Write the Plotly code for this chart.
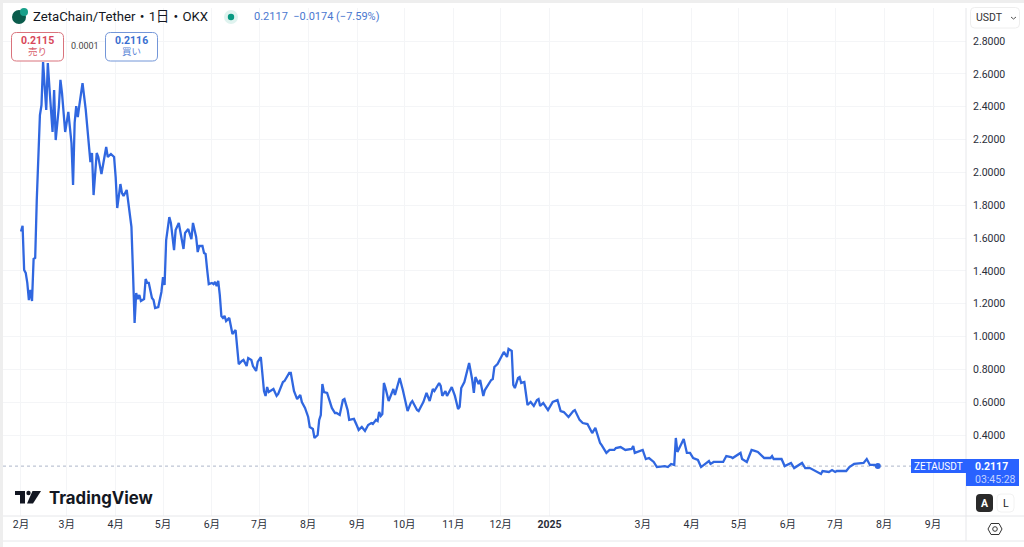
import pandas as pd
import plotly.graph_objects as go

# daily close, days counted from 2024-02-01
start_day = pd.Timestamp("2024-02-01")
days = [0, 1, 2, 3, 4, 5, 6, 7, 8, 9, 10, 12, 13, 14, 16, 17, 18, 20, 21, 22, 24, 25, 26, 28, 30, 32, 33, 34, 35, 36, 37, 39,
        41, 42, 44, 45, 46, 48, 49, 51, 54, 55, 57, 59, 60, 61, 63, 64, 65, 67, 69, 70, 71, 72, 73, 74, 75, 76, 78, 79, 80, 81,
        83, 84, 85, 87, 89, 90, 91, 92, 94, 95, 97, 98, 100, 102, 103, 104, 106, 108, 109, 111, 112, 113, 115, 116, 117, 118, 119, 121, 122, 123,
        124, 125, 126, 127, 128, 129, 130, 132, 134, 136, 138, 140, 141, 143, 144, 146, 147, 149, 150, 152, 153, 154, 155, 156, 157, 160,
        162, 163, 166, 167, 170, 171, 173, 175, 177, 178, 180, 182, 183, 185, 186, 188, 189, 190, 191, 192, 194, 197, 199, 200, 202, 204,
        205, 207, 208, 211, 213, 214, 216, 218, 220, 222, 223, 225, 226, 227, 228, 229, 230, 231, 233, 236, 237, 239, 240, 242, 245, 247,
        248, 251, 252, 254, 255, 257, 259, 261, 262, 265, 266, 267, 269, 270, 273, 275, 277, 278, 279, 281, 284, 286, 287, 288, 290, 291,
        293, 294, 298, 299, 300, 302, 305, 306, 308, 309, 311, 312, 313, 315, 316, 317, 319, 321, 323, 325, 327, 328, 329, 331, 334, 337,
        340, 342, 344, 347, 350, 351, 354, 356, 359, 362, 364, 367, 368, 371, 373, 376, 377, 380, 383, 387, 388, 389, 394, 396, 398, 401,
        403, 406, 408, 410, 412, 414, 415, 416, 420, 422, 424, 426, 429, 431, 436, 437, 439, 445, 447, 450, 451, 456, 457, 460, 463, 465,
        467, 471, 475, 476, 477, 482, 484, 488, 490, 495, 497, 500, 507, 508, 512, 514, 516, 517, 523, 525, 528, 534, 536, 538, 541, 543]
prices = [1.64, 1.675, 1.406, 1.388, 1.327, 1.223, 1.284, 1.217, 1.473, 1.479, 1.832, 2.349, 2.41, 2.672, 2.38, 2.666, 2.52, 2.246, 2.502, 2.197, 2.398, 2.563, 2.483, 2.246, 2.368, 2.179, 1.923, 2.301, 2.404, 2.337, 2.41, 2.544,
          2.385, 2.258, 2.063, 2.118, 1.862, 2.118, 2.094, 1.99, 2.155, 2.094, 2.112, 2.094, 1.972, 1.783, 1.929, 1.874, 1.856, 1.893, 1.741, 1.668, 1.388, 1.083, 1.266, 1.229, 1.254, 1.217, 1.229, 1.351, 1.327, 1.327,
          1.235, 1.223, 1.174, 1.18, 1.272, 1.363, 1.314, 1.588, 1.728, 1.692, 1.527, 1.649, 1.692, 1.57, 1.534, 1.631, 1.655, 1.594, 1.692, 1.607, 1.515, 1.552, 1.552, 1.509, 1.503, 1.406, 1.32, 1.327, 1.32, 1.333,
          1.308, 1.339, 1.253, 1.126, 1.114, 1.126, 1.095, 1.114, 1.016, 1.04, 0.833, 0.852, 0.858, 0.821, 0.87, 0.858, 0.821, 0.791, 0.846, 0.876, 0.754, 0.669, 0.639, 0.693, 0.663, 0.681,
          0.639, 0.651, 0.724, 0.73, 0.779, 0.779, 0.669, 0.62, 0.645, 0.602, 0.566, 0.511, 0.45, 0.438, 0.383, 0.401, 0.493, 0.523, 0.712, 0.663, 0.657, 0.566, 0.535, 0.535, 0.523, 0.614,
          0.62, 0.553, 0.493, 0.499, 0.456, 0.432, 0.45, 0.426, 0.462, 0.474, 0.468, 0.493, 0.486, 0.541, 0.517, 0.529, 0.718, 0.687, 0.608, 0.681, 0.645, 0.724, 0.748, 0.675, 0.547, 0.596,
          0.608, 0.553, 0.547, 0.584, 0.602, 0.657, 0.608, 0.681, 0.669, 0.718, 0.7, 0.639, 0.669, 0.639, 0.693, 0.639, 0.559, 0.572, 0.687, 0.724, 0.84, 0.736, 0.657, 0.754, 0.712, 0.736,
          0.639, 0.675, 0.736, 0.742, 0.815, 0.833, 0.888, 0.907, 0.876, 0.925, 0.913, 0.706, 0.687, 0.748, 0.754, 0.718, 0.724, 0.584, 0.602, 0.578, 0.614, 0.62, 0.578, 0.596, 0.553, 0.602,
          0.614, 0.547, 0.541, 0.511, 0.547, 0.553, 0.493, 0.474, 0.468, 0.413, 0.444, 0.352, 0.34, 0.292, 0.31, 0.31, 0.322, 0.328, 0.31, 0.316, 0.334, 0.292, 0.31, 0.255, 0.261, 0.237,
          0.206, 0.212, 0.212, 0.206, 0.225, 0.219, 0.383, 0.298, 0.377, 0.292, 0.292, 0.261, 0.249, 0.206, 0.243, 0.225, 0.237, 0.237, 0.273, 0.267, 0.261, 0.292, 0.255, 0.237, 0.31, 0.304,
          0.298, 0.261, 0.261, 0.273, 0.255, 0.255, 0.212, 0.231, 0.2, 0.231, 0.2, 0.2, 0.164, 0.182, 0.176, 0.188, 0.176, 0.182, 0.182, 0.206, 0.225, 0.231, 0.255, 0.219, 0.219, 0.2117]

month_ticks = ["2024-02-01", "2024-03-01", "2024-04-01", "2024-05-01", "2024-06-01", "2024-07-01", "2024-08-01", "2024-09-01",
               "2024-10-01", "2024-11-01", "2024-12-01", "2025-01-01", "2025-03-01", "2025-04-01", "2025-05-01", "2025-06-01",
               "2025-07-01", "2025-08-01", "2025-09-01"]
month_labels = ["2月", "3月", "4月", "5月", "6月", "7月", "8月", "9月", "10月", "11月", "12月", "<b>2025</b>",
                "3月", "4月", "5月", "6月", "7月", "8月", "9月"]
price_ticks = [0.4, 0.6, 0.8, 1.0, 1.2, 1.4, 1.6, 1.8, 2.0, 2.2, 2.4, 2.6, 2.8]

LINE = "#3067e0"
GRID = "#f4f5f7"
BORDER = "#e6e7ea"
TEXT = "#2a2e39"
FONT = "Roboto, 'Noto Sans CJK JP', sans-serif"

dates = [start_day + pd.Timedelta(days=d) for d in days]

# plot area in window pixels: x 3..966, y 8..516
def px(x):
    return (x - 3) / 963

def py(y):
    return (516 - y) / 508

def round_box(x0, y0, x1, y1, r):
    a, b, c, d = px(x0), py(y0), px(x1), py(y1)
    rx, ry = r / 963, r / 508
    return (f"M{a + rx},{b} L{c - rx},{b} Q{c},{b} {c},{b - ry} L{c},{d + ry} Q{c},{d} {c - rx},{d} "
            f"L{a + rx},{d} Q{a},{d} {a},{d + ry} L{a},{b - ry} Q{a},{b} {a + rx},{b} Z")

def poly(points):
    return "M" + " L".join(f"{px(x)},{py(y)}" for x, y in points) + " Z"

shapes = []

def box(x0, y0, x1, y1, fill, line=None, r=0):
    shapes.append(dict(type="path", xref="paper", yref="paper", path=round_box(x0, y0, x1, y1, r) if r else
                       poly([(x0, y0), (x1, y0), (x1, y1), (x0, y1)]),
                       fillcolor=fill, line=dict(color=line or fill, width=1 if line else 0), layer="above"))

def disc(x, y, r, fill):
    shapes.append(dict(type="circle", xref="paper", yref="paper", x0=px(x - r), x1=px(x + r), y0=py(y + r), y1=py(y - r),
                       fillcolor=fill, line=dict(width=0), layer="above"))

def rule(x0, y0, x1, y1, color=BORDER):
    shapes.append(dict(type="line", xref="paper", yref="paper", x0=px(x0), x1=px(x1), y0=py(y0), y1=py(y1),
                       line=dict(color=color, width=1), layer="above"))

annotations = []

def label(x, y, text, size=11, color=TEXT, anchor="left", family=FONT):
    annotations.append(dict(xref="paper", yref="paper", x=px(x), y=py(y), text=text, showarrow=False, xanchor=anchor,
                            yanchor="middle", font=dict(size=size, color=color, family=family)))

# window frame
box(0, 0, 3, 547, "#eeeeee")
box(0, 0, 1024, 3, "#eeeeee")

# axis separators
rule(966, 8, 966, 541)
rule(3, 516, 1024, 516)
rule(3, 541, 1024, 541)

# last price line
shapes.append(dict(type="line", xref="paper", yref="y", x0=0, x1=1, y0=prices[-1], y1=prices[-1],
                   line=dict(color="#aeb6ca", width=1, dash="dot"), layer="below"))

# header
disc(19, 17, 7, "#0b5c4c")
disc(24, 12, 4, "#19a08a")
label(31, 17, "ZetaChain/Tether・1日・OKX", 13.2, "#131722")
disc(231, 17, 7, "#dff3ef")
disc(231, 17, 3.2, "#089981")
label(252, 17, "0.2117  −0.0174 (−7.59%)", 11, "#4a78d0")

# bid / ask
box(11.5, 32.5, 63.5, 61, "#ffffff", "#d9737c", 5)
label(37.5, 40, "<b>0.2115</b>", 10.5, "#d8485a", "center")
label(37.5, 52, "売り", 9.5, "#d8606c", "center")
label(85, 46, "0.0001", 9, "#444444", "center")
box(105.5, 32.5, 157.5, 61, "#ffffff", "#7396d8", 5)
label(131.5, 40, "<b>0.2116</b>", 10.5, "#3a6fd0", "center")
label(131.5, 52, "買い", 9.5, "#5b85d6", "center")

# currency select
box(970.5, 7.5, 1019.5, 28, "#ffffff", "#eeeeee", 4)
label(974, 18, "USDT", 10.5, "#333333")
shapes.append(dict(type="path", xref="paper", yref="paper", path=f"M{px(1011)},{py(17)} L{px(1013.5)},{py(19)} L{px(1016)},{py(17)}",
                   line=dict(color="#555555", width=1), layer="above"))

# tradingview mark
box(15, 491, 25, 495, "#131722")
box(20, 495, 25, 503.5, "#131722")
disc(28.5, 493, 2.2, "#131722")
shapes.append(dict(type="path", xref="paper", yref="paper", fillcolor="#131722", line=dict(width=0), layer="above",
                   path=poly([(32.5, 491), (41, 491), (33, 503.5), (27, 503.5)])))
label(47, 498, "<b>TradingView</b>", 16.8, "#131722", family="Inter, sans-serif")

# last price tags
box(911, 459, 966, 473, "#2962ff")
label(938.5, 466, "ZETAUSDT", 10, "#ffffff", "center")
box(966, 459, 1019, 486, "#2962ff")
label(973, 466, "<b>0.2117</b>", 10.5, "#ffffff")
label(973, 479, "03:45:28", 10.5, "#c4d3ff")

# auto / log buttons
box(976, 494, 993, 512, "#2a2a2a", None, 4)
label(984.5, 503, "<b>A</b>", 10.5, "#ffffff", "center")
box(997, 494, 1014, 512, "#ffffff", "#f2f2f2", 4)
label(1005.5, 503, "L", 10.5, "#222222", "center")

# settings hexagon
shapes.append(dict(type="path", xref="paper", yref="paper", fillcolor="rgba(0,0,0,0)", line=dict(color="#333333", width=1), layer="above",
                   path=poly([(991, 523.5), (999, 523.5), (1002, 529), (999, 534.5), (991, 534.5), (988, 529)])))
shapes.append(dict(type="circle", xref="paper", yref="paper", x0=px(992.7), x1=px(997.3), y0=py(531.3), y1=py(526.7),
                   fillcolor="rgba(0,0,0,0)", line=dict(color="#333333", width=1), layer="above"))

fig = go.Figure()
fig.add_trace(go.Scatter(x=dates, y=prices, mode="lines", line=dict(color=LINE, width=2.3), hoverinfo="skip"))
fig.add_trace(go.Scatter(x=[dates[-1]], y=[prices[-1]], mode="markers", marker=dict(color=LINE, size=6), hoverinfo="skip"))

fig.update_layout(
    width=1024, height=547, showlegend=False,
    margin=dict(l=3, r=58, t=8, b=31),
    paper_bgcolor="#ffffff", plot_bgcolor="#ffffff",
    font=dict(family=FONT, size=11, color=TEXT),
    shapes=shapes, annotations=annotations,
)
fig.update_xaxes(
    type="date",
    range=[start_day - pd.Timedelta(days=11.4), start_day + pd.Timedelta(days=598.9)],
    tickmode="array", tickvals=month_ticks, ticktext=month_labels,
    tickangle=0, tickfont=dict(size=10.5, color=TEXT),
    showgrid=True, gridcolor=GRID, gridwidth=1, zeroline=False, showline=False, ticks="",
)
fig.update_yaxes(
    side="right",
    range=[-0.092, 3.0009],
    tickmode="array", tickvals=price_ticks, ticktext=[f"{v:.4f}" for v in price_ticks],
    tickfont=dict(size=10.5, color=TEXT), ticklabelstandoff=6,
    showgrid=True, gridcolor=GRID, gridwidth=1, zeroline=False, showline=False, ticks="",
)

fig.write_html("out.html", config=dict(displayModeBar=False),
               post_script="document.body.style.margin='0';document.body.style.overflow='hidden';")
